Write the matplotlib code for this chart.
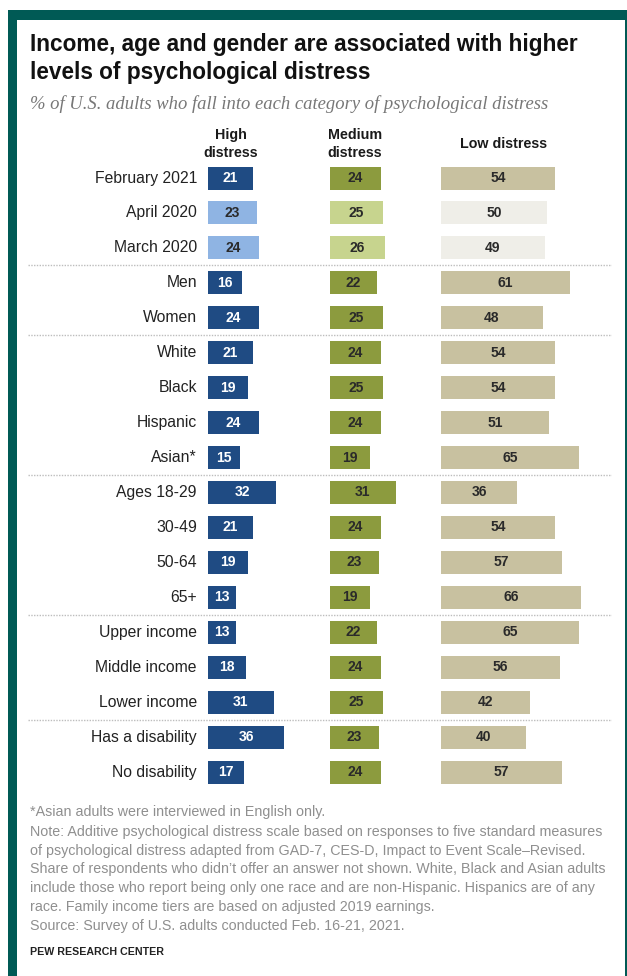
import matplotlib
matplotlib.use("Agg")
import matplotlib.pyplot as plt
from matplotlib.patches import Rectangle

# ---------------- data ----------------
categories = ["February 2021", "April 2020", "March 2020",
              "Men", "Women",
              "White", "Black", "Hispanic", "Asian*",
              "Ages 18-29", "30-49", "50-64", "65+",
              "Upper income", "Middle income", "Lower income",
              "Has a disability", "No disability"]
high_distress = [21, 23, 24, 16, 24, 21, 19, 24, 15, 32, 21, 19, 13, 13, 18, 31, 36, 17]
medium_distress = [24, 25, 26, 22, 25, 24, 25, 24, 19, 31, 24, 23, 19, 22, 24, 25, 23, 24]
low_distress = [54, 50, 49, 61, 48, 54, 54, 51, 65, 36, 54, 57, 66, 65, 56, 42, 40, 57]
earlier_waves = ["April 2020", "March 2020"]
group_ends = ["March 2020", "Women", "Asian*", "65+", "Lower income"]

title = "Income, age and gender are associated with higher\nlevels of psychological distress"
subtitle = "% of U.S. adults who fall into each category of psychological distress"
footnotes = [
    "*Asian adults were interviewed in English only.",
    "Note: Additive psychological distress scale based on responses to five standard measures",
    "of psychological distress adapted from GAD-7, CES-D, Impact to Event Scale\u2013Revised.",
    "Share of respondents who didn\u2019t offer an answer not shown. White, Black and Asian adults",
    "include those who report being only one race and are non-Hispanic. Hispanics are of any",
    "race. Family income tiers are based on adjusted 2019 earnings.",
    "Source: Survey of U.S. adults conducted Feb. 16-21, 2021.",
]
source = "PEW RESEARCH CENTER"

# ---------------- style ----------------
W, H = 627, 976
plt.rcParams['font.family'] = ['Liberation Sans', 'DejaVu Sans']
fig = plt.figure(figsize=(W / 100, H / 100), dpi=100)
fig.patch.set_facecolor("white")

def fx(x):
    return x / W

def fy(y):
    return 1 - y / H

renderer = fig.canvas.get_renderer()

def fit(t, target):
    bb = t.get_window_extent(renderer=renderer)
    t.set_fontsize(t.get_fontsize() * target / bb.width)
    return t.get_fontsize()

# border
teal = "#005a55"
fig.add_artist(Rectangle((fx(8), 0), fx(17) - fx(8), fy(10), transform=fig.transFigure,
                         color=teal, lw=0))
fig.add_artist(Rectangle((fx(8), fy(20)), 1 - fx(8), fy(10) - fy(20), transform=fig.transFigure,
                         color=teal, lw=0))
fig.add_artist(Rectangle((fx(625), 0), 1 - fx(625), fy(10), transform=fig.transFigure,
                         color=teal, lw=0))

# titles
t1 = fig.text(fx(30), fy(44), title.split("\n")[0], fontsize=14, fontweight="bold",
              color="#111111", va="center", ha="left")
ts = fit(t1, 551)
fig.text(fx(30), fy(72), title.split("\n")[1], fontsize=ts, fontweight="bold",
         color="#111111", va="center", ha="left")
st = fig.text(fx(30), fy(104), subtitle, fontsize=10, style="italic",
              family=["Liberation Serif", "DejaVu Serif"], color="#777777",
              va="center", ha="left")
fit(st, 521)

# headers
hsize = 10.3
hcol = "#1a1a1a"
fig.text(fx(231), fy(135), "High", fontsize=hsize, fontweight="bold", ha="center", va="center", color=hcol)
fig.text(fx(231), fy(153), "distress", fontsize=hsize, fontweight="bold", ha="center", va="center", color=hcol)
fig.text(fx(355), fy(135), "Medium", fontsize=hsize, fontweight="bold", ha="center", va="center", color=hcol)
fig.text(fx(355), fy(153), "distress", fontsize=hsize, fontweight="bold", ha="center", va="center", color=hcol)
fig.text(fx(504), fy(144), "Low distress", fontsize=hsize, fontweight="bold", ha="center", va="center", color=hcol)

# main axes
row0, rowN = 178, 772
n = len(categories)
step = (rowN - row0) / (n - 1)
top_px, bot_px = row0 - step / 2, rowN + step / 2
left_px, right_px = 28, 612
zero_px, scale = 208, 2.12
ax = fig.add_axes([fx(left_px), fy(bot_px), fx(right_px) - fx(left_px), fy(top_px) - fy(bot_px)])
ax.set_xlim((left_px - zero_px) / scale, (right_px - zero_px) / scale)
ax.set_ylim(n - 0.5, -0.5)
ax.axis("off")

off_med = (330 - zero_px) / scale
off_low = (441 - zero_px) / scale
bar_h = 23 / step

cols = {
    "high": ("#1f4b83", "#8fb4e3"),
    "med": ("#8c9b3e", "#c7d48e"),
    "low": ("#c8c1a0", "#efeee8"),
}

ys = list(range(n))
earlier = [c in earlier_waves for c in categories]
hc = [cols["high"][1] if e else cols["high"][0] for e in earlier]
mc = [cols["med"][1] if e else cols["med"][0] for e in earlier]
lc = [cols["low"][1] if e else cols["low"][0] for e in earlier]

ax.barh(ys, high_distress, left=0, height=bar_h, color=hc, lw=0)
ax.barh(ys, medium_distress, left=off_med, height=bar_h, color=mc, lw=0)
ax.barh(ys, low_distress, left=off_low, height=bar_h, color=lc, lw=0)

nsize = 10
ncol = "#2a2a2a"
labels = []
for i, c in enumerate(categories):
    labels.append(ax.text(-5.2, i, c, ha="right", va="center", fontsize=10.3, color="#222222"))
    ax.text(high_distress[i] / 2, i, str(high_distress[i]), ha="center", va="center",
            fontsize=nsize, fontweight="bold", color=ncol if earlier[i] else "white")
    ax.text(off_med + medium_distress[i] / 2, i, str(medium_distress[i]), ha="center", va="center",
            fontsize=nsize, fontweight="bold", color=ncol)
    ax.text(off_low + low_distress[i] / 2, i, str(low_distress[i]), ha="center", va="center",
            fontsize=nsize, fontweight="bold", color=ncol)
lsize = fit(labels[0], 103)
for t in labels:
    t.set_fontsize(lsize)

for g in group_ends:
    i = categories.index(g)
    ax.axhline(i + 0.5, color="#bdbdbd", lw=1, ls=(0, (1, 1)))

# footnotes
ys_f = [812, 832, 851, 869, 888, 907, 926]
ftexts = []
for s, yy in zip(footnotes, ys_f):
    ftexts.append(fig.text(fx(30), fy(yy), s, fontsize=8, color="#8f8f8f", ha="left", va="center"))
fsize = fit(ftexts[3], 577)
for t in ftexts:
    t.set_fontsize(fsize)
fig.text(fx(30), fy(952), source, fontsize=7.7, fontweight="bold", color="#222222",
         ha="left", va="center")

fig.savefig("out.png", dpi=100, facecolor="white")
